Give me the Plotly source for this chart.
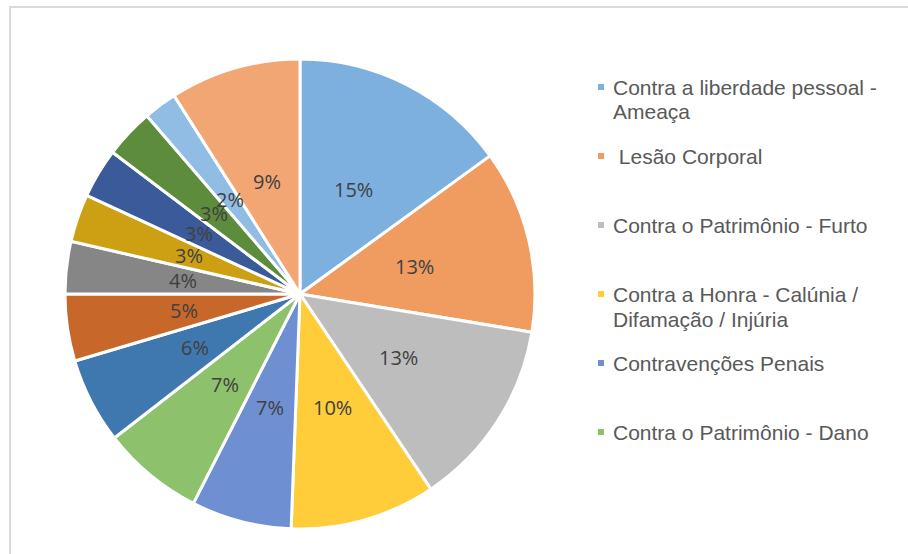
import math
import plotly.graph_objects as go

# ---- data ----
categories = [
    "Contra a liberdade pessoal - Ameaça",
    " Lesão Corporal",
    "Contra o Patrimônio - Furto",
    "Contra a Honra - Calúnia / Difamação / Injúria",
    "Contravenções Penais",
    "Contra o Patrimônio - Dano",
    "Categoria 7", "Categoria 8", "Categoria 9", "Categoria 10",
    "Categoria 11", "Categoria 12", "Categoria 13", "Categoria 14",
]
values = [15.0, 12.6, 13.0, 10.0, 6.9, 7.0, 5.9, 4.6, 3.6, 3.3, 3.4, 3.4, 2.3, 9.0]
colors = [
    "#7DB0DF", "#F09B5F", "#BDBDBD", "#FFCD3A", "#6E8FD2", "#8DC16B",
    "#3F78AE", "#C8672A", "#868686", "#CDA014", "#3A5A9A", "#5C8C3C",
    "#91BCE4", "#F2A674",
]
legend_lines = [
    ["Contra a liberdade pessoal -", "Ameaça"],
    ["\u00a0Lesão Corporal"],
    ["Contra o Patrimônio - Furto"],
    ["Contra a Honra - Calúnia /", "Difamação / Injúria"],
    ["Contravenções Penais"],
    ["Contra o Patrimônio - Dano"],
]

W, H = 908, 554
CX, CY, R = 300.0, 294.0, 235.0

fig = go.Figure()
fig.add_trace(go.Pie(
    labels=categories,
    values=values,
    sort=False,
    direction="clockwise",
    rotation=0,
    marker=dict(colors=colors, line=dict(color="white", width=3)),
    textinfo="none",
    hoverinfo="label+percent",
    showlegend=False,
    domain=dict(x=[(CX - R) / W, (CX + R) / W],
                y=[1 - (CY + R) / H, 1 - (CY - R) / H]),
))

annotations = []
total = sum(values)
cum = 0.0
for v in values:
    mid = (cum + v / 2) / total * 2 * math.pi
    cum += v
    r = 0.5 * R
    px = CX + r * math.sin(mid)
    py = CY - r * math.cos(mid)
    annotations.append(dict(
        x=px / W, y=1 - py / H, xref="paper", yref="paper",
        text=f"{round(v / total * 100)}%", showarrow=False,
        xanchor="center", yanchor="middle",
        font=dict(family="Open Sans", size=20, color="#404040"),
    ))

shapes = []
LX_TEXT, LX_MARK = 611, 598
LY0, LSTEP, LLINE = 87, 69, 25
for i, lines in enumerate(legend_lines):
    y0 = LY0 + i * LSTEP
    for j, line in enumerate(lines):
        annotations.append(dict(
            x=LX_TEXT / W, y=1 - (y0 + j * LLINE) / H, xref="paper", yref="paper",
            text=line, showarrow=False, xanchor="left", yanchor="middle",
            font=dict(family="Liberation Sans, Arial", size=21, color="#595959"),
        ))
    shapes.append(dict(
        type="rect", xref="paper", yref="paper",
        x0=LX_MARK / W, x1=(LX_MARK + 6) / W,
        y0=1 - (y0 + 3) / H, y1=1 - (y0 - 3) / H,
        fillcolor=colors[i], line=dict(width=0),
    ))

# chart area border
shapes.append(dict(
    type="rect", xref="paper", yref="paper",
    x0=10 / W, x1=1.02, y0=-0.02, y1=1 - 7 / H,
    line=dict(color="#D9D9D9", width=2), fillcolor="rgba(0,0,0,0)",
))

fig.update_layout(
    width=W, height=H,
    margin=dict(l=0, r=0, t=0, b=0),
    paper_bgcolor="white", plot_bgcolor="white",
    annotations=annotations, shapes=shapes,
)

fig.write_html("out.html")
